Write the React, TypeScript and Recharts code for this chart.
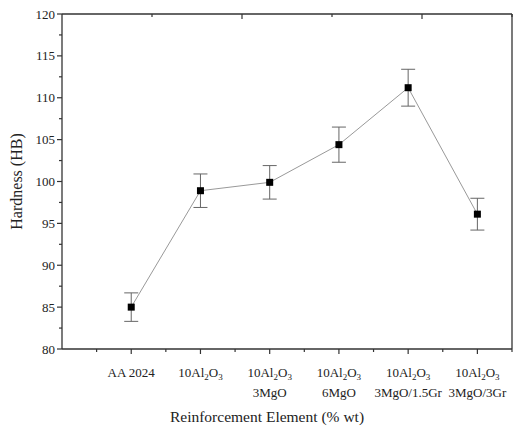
import React from 'react';
import { LineChart, Line, XAxis, YAxis, ErrorBar, Label } from 'recharts';

// "_n" marks a subscript digit, "|" splits a label onto a second line
const categories = [
  'AA 2024',
  '10Al_2O_3',
  '10Al_2O_3|3MgO',
  '10Al_2O_3|6MgO',
  '10Al_2O_3|3MgO/1.5Gr',
  '10Al_2O_3|3MgO/3Gr',
];
const hardness = [85.0, 98.9, 99.9, 104.4, 111.2, 96.1];
const hardnessErr = [1.7, 2.0, 2.0, 2.1, 2.2, 1.9];

const yTicks = [80, 82.5, 85, 87.5, 90, 92.5, 95, 97.5, 100, 102.5, 105, 107.5, 110, 112.5, 115, 117.5, 120];
const xTicks = [0.5, 1, 1.5, 2, 2.5, 3, 3.5, 4, 4.5, 5, 5.5, 6, 6.5];
const oppTicks = [1, 2, 3, 4, 5, 6, 7, 8, 9];

const FONT = '"Liberation Serif", "Times New Roman", serif';
const AXIS = '#333';
const TEXT = '#222';

const data = categories.map((c, i) => ({
  pos: i + 1,
  hardness: hardness[i],
  err: hardnessErr[i],
}));

const Rich = ({ s }: { s: string }) => {
  const parts = s.split(/(_\d)/).filter(Boolean);
  let shifted = false;
  return (
    <>
      {parts.map((p, i) => {
        if (p.startsWith('_')) {
          shifted = true;
          return (
            <tspan key={i} dy={3} fontSize={9}>
              {p.slice(1)}
            </tspan>
          );
        }
        const dy = shifted ? -3 : 0;
        shifted = false;
        return (
          <tspan key={i} dy={dy}>
            {p}
          </tspan>
        );
      })}
    </>
  );
};

const BottomTick = (props: any) => {
  const { x, y, payload } = props;
  const v = payload.value;
  const major = Number.isInteger(v);
  const lines = major ? categories[v - 1].split('|') : [];
  return (
    <g>
      <line x1={x} x2={x} y1={y} y2={y + (major ? 5 : 3)} stroke={AXIS} strokeWidth={1.2} />
      {lines.map((ln, i) => (
        <text key={i} x={x} y={y + 28 + i * 20} textAnchor="middle" fontSize={13} fill={TEXT} fontFamily={FONT}>
          <Rich s={ln} />
        </text>
      ))}
    </g>
  );
};

const LeftTick = (props: any) => {
  const { x, y, payload } = props;
  const v = payload.value;
  const major = v % 5 === 0;
  return (
    <g>
      <line x1={x} x2={x - (major ? 5 : 3)} y1={y} y2={y} stroke={AXIS} strokeWidth={1.2} />
      {major && (
        <text x={x - 7} y={y + 4.5} textAnchor="end" fontSize={13} fill={TEXT} fontFamily={FONT}>
          {v}
        </text>
      )}
    </g>
  );
};

const TopTick = (props: any) => {
  const { x, y, payload } = props;
  const len = payload.value % 2 === 0 ? 5 : 3;
  return <line x1={x} x2={x} y1={y} y2={y + len} stroke={AXIS} strokeWidth={1.2} />;
};

const RightTick = (props: any) => {
  const { x, y, payload } = props;
  const len = payload.value % 2 === 0 ? 5 : 3;
  return <line x1={x} x2={x - len} y1={y} y2={y} stroke={AXIS} strokeWidth={1.2} />;
};

const SquareDot = (props: any) => {
  const { cx, cy, index } = props;
  return <rect key={index} x={cx - 3.5} y={cy - 3.5} width={7} height={7} fill="#000" />;
};

const axisLine = { stroke: AXIS, strokeWidth: 1.3 };

export default function App() {
  return (
    <LineChart width={515} height={418} data={data} margin={{ top: 0, right: 0, bottom: 0, left: 0 }}>
      <XAxis
        dataKey="pos"
        type="number"
        domain={[0, 6.5]}
        ticks={xTicks}
        interval={0}
        height={77}
        axisLine={axisLine}
        tickLine={false}
        tickSize={0}
        tickMargin={0}
        tick={<BottomTick />}
        allowDataOverflow
      >
        <Label
          content={(p: any) => {
            const vb = p.viewBox;
            return (
              <text x={vb.x + vb.width / 2 - 20} y={vb.y + 73} textAnchor="middle" fontSize={15.5} fill={TEXT} fontFamily={FONT}>
                Reinforcement Element (% wt)
              </text>
            );
          }}
        />
      </XAxis>
      <XAxis
        xAxisId="top"
        orientation="top"
        type="number"
        domain={[0, 10]}
        ticks={oppTicks}
        interval={0}
        height={6}
        axisLine={axisLine}
        tickLine={false}
        tickSize={0}
        tickMargin={0}
        tick={<TopTick />}
      />
      <YAxis
        type="number"
        domain={[80, 120]}
        ticks={yTicks}
        interval={0}
        width={54}
        axisLine={axisLine}
        tickLine={false}
        tickSize={0}
        tickMargin={0}
        tick={<LeftTick />}
        allowDataOverflow
      >
        <Label
          content={(p: any) => {
            const vb = p.viewBox;
            const cy = vb.y + vb.height / 2;
            return (
              <text
                transform={`translate(${vb.x + 14}, ${cy}) rotate(-90)`}
                textAnchor="middle"
                fontSize={16}
                fill={TEXT}
                fontFamily={FONT}
              >
                Hardness (HB)
              </text>
            );
          }}
        />
      </YAxis>
      <YAxis
        yAxisId="right"
        orientation="right"
        type="number"
        domain={[0, 10]}
        ticks={oppTicks}
        interval={0}
        width={11}
        axisLine={axisLine}
        tickLine={false}
        tickSize={0}
        tickMargin={0}
        tick={<RightTick />}
      />
      <Line
        dataKey="hardness"
        stroke="#999"
        strokeWidth={1}
        dot={<SquareDot />}
        activeDot={false}
        isAnimationActive={false}
      >
        <ErrorBar dataKey="err" direction="y" width={7} stroke="#666" strokeWidth={1} isAnimationActive={false} />
      </Line>
    </LineChart>
  );
}
